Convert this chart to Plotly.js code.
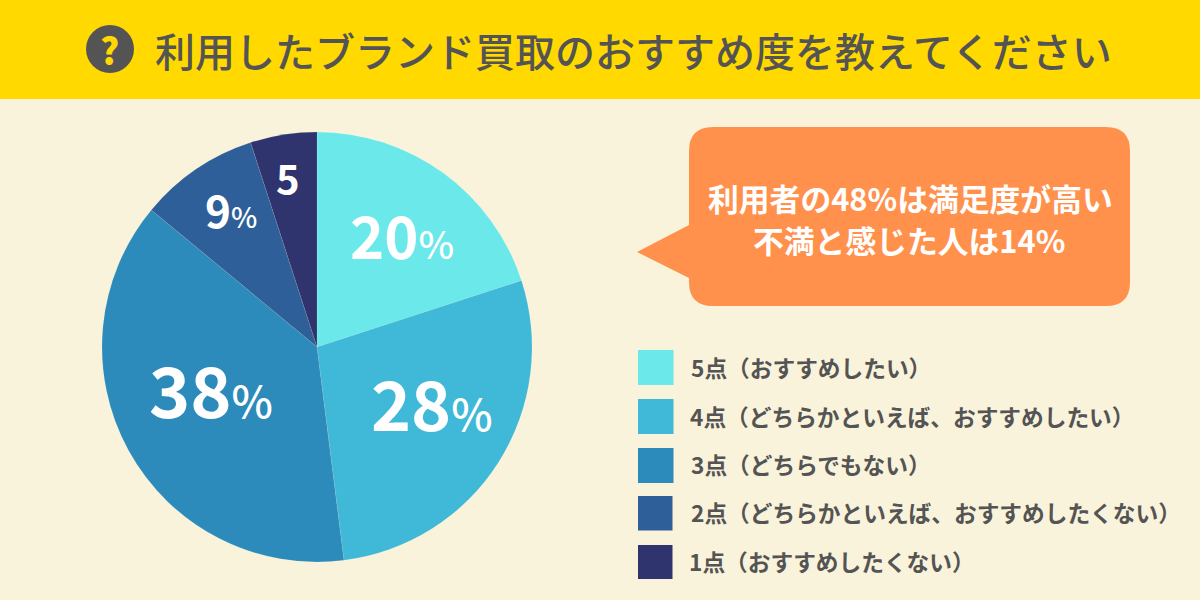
<!DOCTYPE html>
<html><head><meta charset="utf-8">
<script src="https://cdn.plot.ly/plotly-3.0.1.min.js"></script>
<style>html,body{margin:0;padding:0;background:#FAF3DB}</style></head>
<body><div id="chart" style="width:1200px;height:600px"></div>
<script>
const categories = ['5点（おすすめしたい）','4点（どちらかといえば、おすすめしたい）','3点（どちらでもない）','2点（どちらかといえば、おすすめしたくない）','1点（おすすめしたくない）'];
const values = [20,28,38,9,5];
const colors = ['#6AE8EA','#40B8D8','#2C8BBB','#2E5F98','#2F346E'];
const titleText = '利用したブランド買取のおすすめ度を教えてください';
const calloutLines = ['利用者の48%は満足度が高い','不満と感じた人は14%'];
const labelSuffix = ['%','%','%','%',''];
const labelPos = [[402,234],[432,401],[211,387],[231,209],[288,177]];
const labelSizes = [[58,38],[68,44],[70,44],[44,28],[40,24]];
const legendY = [367,416,464,512,561];
const legendTextX = [690,689,690,690,688];
const JP = '"Noto Sans CJK JP","Noto Sans",sans-serif';
const px = x => x/1200, py = y => 1-y/600;
const P = (x,y) => px(x).toFixed(5)+','+py(y).toFixed(5);
const rect = (x0,y0,x1,y1,c) => ({type:'rect',xref:'paper',yref:'paper',x0:px(x0),x1:px(x1),y0:py(y1),y1:py(y0),fillcolor:c,line:{width:0},layer:'below'});
const calloutPath = 'M '+P(713,127)+' L '+P(1106,127)+' Q '+P(1130,127)+' '+P(1130,151)+' L '+P(1130,282)+' Q '+P(1130,306)+' '+P(1106,306)+
 ' L '+P(713,306)+' Q '+P(689,306)+' '+P(689,282)+' L '+P(689,278)+' L '+P(637,252)+' L '+P(689,225)+' L '+P(689,151)+' Q '+P(689,127)+' '+P(713,127)+' Z';
const shapes = [
  rect(0,0,1200,99,'#FFD900'),
  {type:'circle',xref:'paper',yref:'paper',x0:px(86),x1:px(134),y0:py(73),y1:py(25),fillcolor:'#545454',line:{width:0}},
  {type:'path',xref:'paper',yref:'paper',path:calloutPath,fillcolor:'#FF914D',line:{width:0}},
  ...colors.map((c,i)=>rect(638,[350,399,448,496,545][i],[673.5,673.5,673.5,672.5,672.5][i],[385,434,483,530.5,579][i],c))
];
const ann = (x,y,text,size,color,anchor,weight) => ({xref:'paper',yref:'paper',x:px(x),y:py(y),text,showarrow:false,xanchor:anchor||'center',yanchor:'middle',
  font:{family:JP,size,color,weight:weight||700},borderpad:0});
const annotations = [
  ann(110,49,'?',36,'#FFD900','center',900),
  ann(633.5,50,titleText,40,'#545454','center',500),
  ann(910,197,calloutLines[0],30.8,'#FFFFFF'),
  ann(909,239,calloutLines[1],30.8,'#FFFFFF'),
  ...categories.map((t,i)=>ann(legendTextX[i],legendY[i],t,22.7,'#545454','left')),
  ...values.map((v,i)=>ann(labelPos[i][0],labelPos[i][1],
     v+(labelSuffix[i]?'<span style="font-size:'+labelSizes[i][1]+'px;font-weight:500">'+labelSuffix[i]+'</span>':''),labelSizes[i][0],'#FFFFFF'))
];
Plotly.newPlot('chart',[{type:'pie',values,labels:categories,sort:false,direction:'clockwise',rotation:0,
  marker:{colors,line:{color:'rgba(255,255,255,0.2)',width:0.5}},textinfo:'none',hoverinfo:'skip',
  domain:{x:[px(102),px(532)],y:[py(562),py(132)]}}],
 {width:1200,height:600,margin:{l:0,r:0,t:0,b:0},paper_bgcolor:'#FAF3DB',plot_bgcolor:'#FAF3DB',showlegend:false,shapes,annotations},
 {displayModeBar:false,staticPlot:true});
</script></body></html>
